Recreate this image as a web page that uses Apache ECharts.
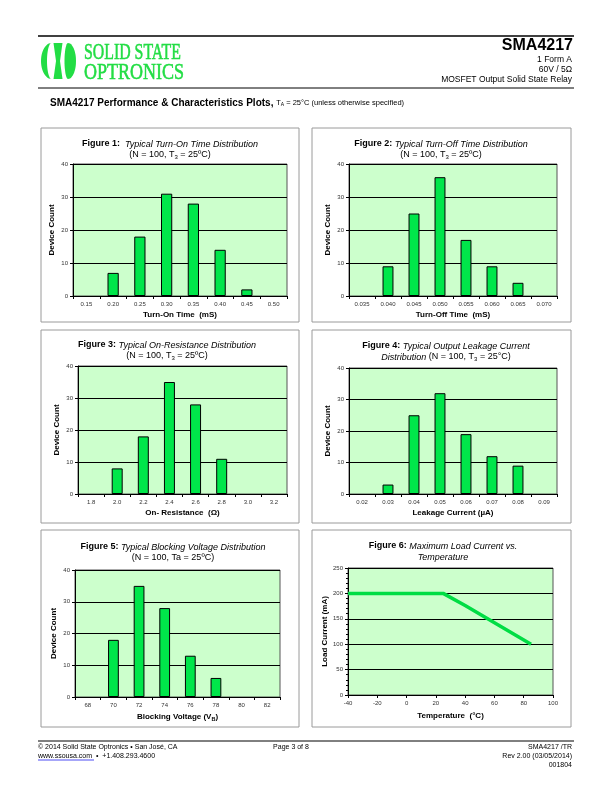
<!DOCTYPE html>
<html><head><meta charset="utf-8">
<script src="https://cdn.jsdelivr.net/npm/echarts/dist/echarts.min.js"></script>
<style>html,body{margin:0;padding:0;background:#fff}#c{width:612px;height:792px}</style>
</head><body><div id="c"></div>
<script>
// ---------- data ----------
const fig1Cats = ['0.15','0.20','0.25','0.30','0.35','0.40','0.45','0.50'];
const fig1Vals = [0, 7, 18, 31, 28, 14, 2, 0];
const fig2Cats = ['0.035','0.040','0.045','0.050','0.055','0.060','0.065','0.070'];
const fig2Vals = [0, 9, 25, 36, 17, 9, 4, 0];
const fig3Cats = ['1.8','2.0','2.2','2.4','2.6','2.8','3.0','3.2'];
const fig3Vals = [0, 8, 18, 35, 28, 11, 0, 0];
const fig4Cats = ['0.02','0.03','0.04','0.05','0.06','0.07','0.08','0.09'];
const fig4Vals = [0, 3, 25, 32, 19, 12, 9, 0];
const fig5Cats = ['68','70','72','74','76','78','80','82'];
const fig5Vals = [0, 18, 35, 28, 13, 6, 0, 0];
const fig6Temp = [-40, 25, 40, 85];
const fig6Load = [200, 200, 176, 100];

// ---------- style ----------
const FONT = '"Liberation Sans", Arial, sans-serif';
const BG = '#ccffcc';
const BAR = '#00e64a';

const grids = [
  {left:73, top:164, width:214, height:132},
  {left:349, top:164, width:208, height:132},
  {left:78, top:366, width:209, height:128},
  {left:349, top:368, width:208, height:126},
  {left:75, top:570, width:205, height:127},
  {left:348, top:568, width:205, height:127}
].map(g => Object.assign(g, {show:true, backgroundColor:BG, borderColor:'#555', borderWidth:1, containLabel:false}));

const barSets = [
  {cats:fig1Cats, vals:fig1Vals, xName:'Turn-On Time  (mS)'},
  {cats:fig2Cats, vals:fig2Vals, xName:'Turn-Off Time  (mS)'},
  {cats:fig3Cats, vals:fig3Vals, xName:'On- Resistance  (Ω)'},
  {cats:fig4Cats, vals:fig4Vals, xName:'Leakage Current (µA)'},
  {cats:fig5Cats, vals:fig5Vals, xName:'Blocking Voltage (V{sub|B})'}
];

const axisNameStyle = {fontFamily:FONT, fontSize:8, fontWeight:'bold', color:'#000',
  rich:{sub:{fontFamily:FONT, fontSize:5.5, fontWeight:'bold', color:'#000', padding:[4,0,0,0]}}};
const tickLabel = {fontFamily:FONT, fontSize:6, color:'#333'};

const xAxes = [], yAxes = [], series = [];
barSets.forEach((s, i) => {
  xAxes.push({type:'category', gridIndex:i, data:s.cats,
    axisLine:{lineStyle:{color:'#000', width:1}}, axisTick:{show:true, length:3, lineStyle:{color:'#000'}},
    axisLabel:Object.assign({margin:5}, tickLabel),
    name:s.xName, nameLocation:'middle', nameGap:15, nameTextStyle:axisNameStyle});
  yAxes.push({type:'value', gridIndex:i, min:0, max:40, interval:10,
    axisLine:{show:true, lineStyle:{color:'#000'}}, axisTick:{show:true, length:3, lineStyle:{color:'#000'}},
    splitLine:{lineStyle:{color:'#000', width:1}},
    axisLabel:Object.assign({margin:5}, tickLabel),
    name:'Device Count', nameLocation:'middle', nameGap:17, nameTextStyle:axisNameStyle});
  series.push({type:'bar', xAxisIndex:i, yAxisIndex:i, barWidth:'42%',
    data:s.vals.map(v => ({value:v, itemStyle: v === 0 ? {borderWidth:0, opacity:0} : {}})),
    itemStyle:{color:BAR, borderColor:'#000', borderWidth:1}, silent:true, animation:false});
});
// figure 6
xAxes.push({type:'value', gridIndex:5, min:-40, max:100, interval:20,
  axisLine:{onZero:false, lineStyle:{color:'#000'}}, axisTick:{show:true, length:3, lineStyle:{color:'#000'}},
  splitLine:{show:false}, axisLabel:Object.assign({margin:5}, tickLabel),
  name:'Temperature  (°C)', nameLocation:'middle', nameGap:17, nameTextStyle:axisNameStyle});
yAxes.push({type:'value', gridIndex:5, min:0, max:250, interval:50,
  axisLine:{show:true, onZero:false, lineStyle:{color:'#000'}}, axisTick:{show:true, length:3, lineStyle:{color:'#000'}},
  minorTick:{show:true, splitNumber:5, length:2, lineStyle:{color:'#000'}},
  splitLine:{lineStyle:{color:'#000', width:1}},
  axisLabel:Object.assign({margin:5}, tickLabel),
  name:'Load Current (mA)', nameLocation:'middle', nameGap:19, nameTextStyle:axisNameStyle});
series.push({type:'line', xAxisIndex:5, yAxisIndex:5, data:fig6Temp.map((t,k)=>[t, fig6Load[k]]),
  showSymbol:false, lineStyle:{color:'#00dd44', width:3.5}, silent:true, animation:false});

// ---------- graphics ----------
const G = [];
const txt = (x, y, text, o) => G.push({type:'text', x, y, silent:true,
  style:Object.assign({text, fontFamily:FONT, fontSize:9, fill:'#000', textAlign:'left', textVerticalAlign:'middle'}, o||{})});
const line = (x1,y1,x2,y2,w,c) => G.push({type:'line', silent:true, shape:{x1,y1,x2,y2}, style:{stroke:c||'#000', lineWidth:w||1}});

// header lines
line(38, 36, 574, 36, 1.5);
line(38, 88, 574, 88, 1);
line(38, 741, 574, 741, 1);

// logo
const LG = '#22dd44';
(function(){
  const N = 24, y0 = 43, h = 36;
  const arc = (cx, r, k) => { const t = Math.PI*k/N; return [cx - r*Math.sin(t), y0 + h/2*(1-Math.cos(t))]; };
  // left crescent
  const p1 = [];
  for (let k=0;k<=N;k++) p1.push(arc(51.5, 10.5, k));
  for (let k=N;k>=0;k--) p1.push(arc(51.5, 4.5, k));
  G.push({type:'polygon', silent:true, shape:{points:p1}, style:{fill:LG}});
  // center hourglass
  G.push({type:'polygon', silent:true, shape:{points:[[53.5,y0],[62.5,y0],[60,y0+h/2],[62.5,y0+h],[53.5,y0+h],[56,y0+h/2]]}, style:{fill:LG}});
  // right lens
  const p2 = [];
  for (let k=0;k<=N;k++) p2.push(arc(68, -8, k));
  for (let k=N;k>=0;k--) p2.push(arc(68, 3.5, k));
  G.push({type:'polygon', silent:true, shape:{points:p2}, style:{fill:LG}});
})();
G.push({type:'text', x:84, y:53, scaleX:0.66, silent:true, style:{text:'SOLID STATE', fontFamily:'"Liberation Serif", serif', fontSize:24, fill:LG, stroke:LG, lineWidth:0.6, textVerticalAlign:'middle'}});
G.push({type:'text', x:84, y:72.5, scaleX:0.75, silent:true, style:{text:'OPTRONICS', fontFamily:'"Liberation Serif", serif', fontSize:24, fill:LG, stroke:LG, lineWidth:0.6, textVerticalAlign:'middle'}});

// header right
txt(573, 46, 'SMA4217', {fontSize:16, fontWeight:'bold', textAlign:'right'});
txt(572, 60, '1 Form A', {fontSize:8.5, textAlign:'right'});
txt(572, 70, '60V / 5Ω', {fontSize:8.5, textAlign:'right'});
txt(572, 80, 'MOSFET Output Solid State Relay', {fontSize:8.5, textAlign:'right'});

// subtitle
txt(50, 103, '{b|SMA4217 Performance & Characteristics Plots, }{s|T}{sub|A}{s| = 25°C (unless otherwise specified)}', {
  rich:{b:{fontFamily:FONT, fontSize:10, fontWeight:'bold'}, s:{fontFamily:FONT, fontSize:7.5}, sub:{fontFamily:FONT, fontSize:5, padding:[4,0,0,0]}}});

// panels
[[41,128,258,194],[312,128,259,194],[41,330,258,193],[312,330,259,193],[41,530,258,197],[312,530,259,197]].forEach(r=>{
  G.push({type:'rect', silent:true, shape:{x:r[0], y:r[1], width:r[2], height:r[3]}, style:{fill:'none', stroke:'#9a9a9a', lineWidth:1}});
});

// figure titles
const tRich = {
  b:{fontFamily:FONT, fontSize:9, fontWeight:'bold', color:'#000'},
  i:{fontFamily:FONT, fontSize:9, fontStyle:'italic', color:'#000'},
  n:{fontFamily:FONT, fontSize:9, color:'#000'},
  sub:{fontFamily:FONT, fontSize:6, color:'#000', padding:[4,0,0,0]}
};
const title = (x, y, l1, l2) => {
  txt(x, y, l1, {textAlign:'center', rich:tRich});
  txt(x, y+11, l2, {textAlign:'center', rich:tRich});
};
title(170, 144, '{b|Figure 1:  }{i|Typical Turn-On Time Distribution}', '{n|(N = 100, T}{sub|3}{n| = 25ºC)}');
title(441, 144, '{b|Figure 2: }{i|Typical Turn-Off Time Distribution}', '{n|(N = 100, T}{sub|3}{n| = 25ºC)}');
title(167, 345, '{b|Figure 3: }{i|Typical On-Resistance Distribution}', '{n|(N = 100, T}{sub|3}{n| = 25ºC)}');
title(446, 346, '{b|Figure 4: }{i|Typical Output Leakage Current}', '{i|Distribution }{n|(N = 100, T}{sub|3}{n| = 25°C)}');
title(173, 547, '{b|Figure 5: }{i|Typical Blocking Voltage Distribution}', '{n|(N = 100, Ta = 25ºC)}');
title(443, 546, '{b|Figure 6: }{i|Maximum Load Current vs.}', '{i|Temperature}');

// footer
txt(38, 747, '© 2014 Solid State Optronics • San José, CA', {fontSize:7});
txt(38, 756, '{u|www.ssousa.com}{n|  •  +1.408.293.4600}', {fontSize:7,
  rich:{u:{fontFamily:FONT, fontSize:7, color:'#0000ee'}, n:{fontFamily:FONT, fontSize:7, color:'#000'}}});
line(38, 760, 94, 760, 0.7, '#0000ee');
txt(291, 747, 'Page 3 of 8', {fontSize:7, textAlign:'center'});
txt(572, 747, 'SMA4217 /TR', {fontSize:7, textAlign:'right'});
txt(572, 756, 'Rev 2.00 (03/05/2014)', {fontSize:7, textAlign:'right'});
txt(572, 765, '001804', {fontSize:7, textAlign:'right'});

const chart = echarts.init(document.getElementById('c'), null, {renderer:'canvas'});
chart.setOption({
  animation:false,
  backgroundColor:'#fff',
  textStyle:{fontFamily:FONT},
  grid:grids, xAxis:xAxes, yAxis:yAxes, series:series,
  graphic:{elements:G}
});
</script></body></html>
